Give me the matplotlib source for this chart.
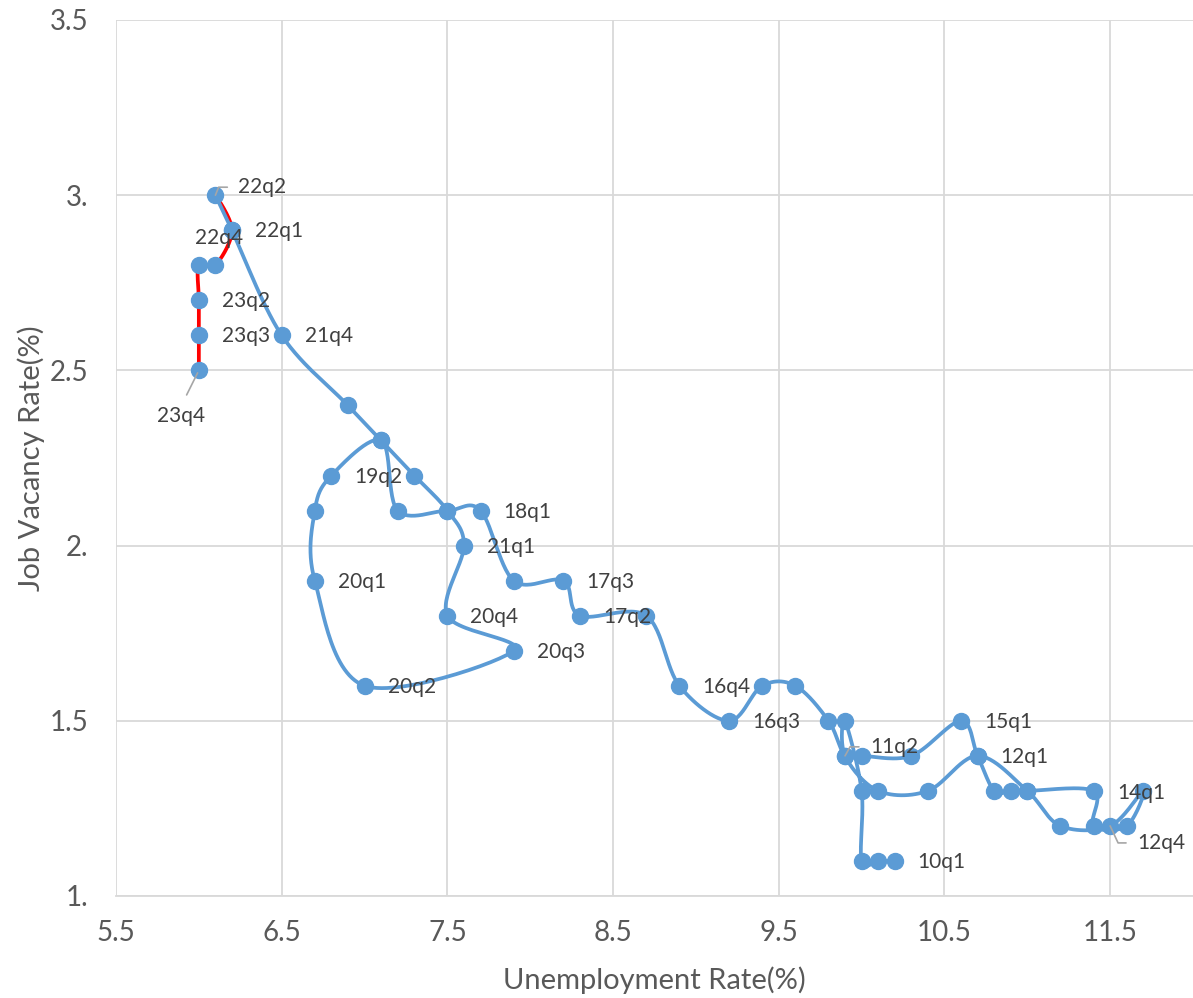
"""
Beveridge curve: job vacancy rate vs unemployment rate, quarterly 2010-2023,
drawn as an Excel-style smoothed scatter line with the latest stretch in red.
"""

import matplotlib

matplotlib.use("Agg")
import matplotlib.pyplot as plt
import numpy as np

plt.rcParams["font.family"] = ["Lato", "DejaVu Sans"]

# path of the curve in plotting order (unemployment %, vacancy %)
unemployment = [
    10.2, 10.1, 10.0, 10.0, 9.9, 9.9, 10.1, 10.4, 10.7, 11.0,
    11.2, 11.5, 11.7, 11.6, 11.4, 11.4, 11.0, 10.9, 10.8, 10.7,
    10.6, 10.3, 10.0, 9.9, 9.8, 9.6, 9.4, 9.2, 8.9, 8.7,
    8.3, 8.2, 7.9, 7.7, 7.5, 7.2, 7.1, 6.8, 6.7, 6.7,
    7.0, 7.9, 7.5, 7.6, 7.5, 7.3, 7.1, 6.9, 6.5, 6.2,
    6.1, 6.2, 6.1, 6.0, 6.0, 6.0, 6.0,
]
vacancy = [
    1.1, 1.1, 1.1, 1.3, 1.5, 1.4, 1.3, 1.3, 1.4, 1.3,
    1.2, 1.2, 1.3, 1.2, 1.2, 1.3, 1.3, 1.3, 1.3, 1.4,
    1.5, 1.4, 1.4, 1.4, 1.5, 1.6, 1.6, 1.5, 1.6, 1.8,
    1.8, 1.9, 1.9, 2.1, 2.1, 2.1, 2.3, 2.2, 2.1, 1.9,
    1.6, 1.7, 1.8, 2.0, 2.1, 2.2, 2.3, 2.4, 2.6, 2.9,
    3.0, 2.9, 2.8, 2.8, 2.7, 2.6, 2.5,
]
red_from = 50  # index of 22q2: segments after it are drawn red

# data labels: text and the point they belong to
label_text = ["22q2", "22q1", "22q4", "23q2", "23q3", "21q4", "23q4", "19q2",
              "18q1", "21q1", "20q1", "17q3", "20q4", "17q2", "20q3", "20q2",
              "16q4", "16q3", "15q1", "11q2", "12q1", "14q1", "12q4", "10q1"]
label_x = [6.1, 6.2, 6.1, 6.0, 6.0, 6.5, 6.0, 6.8, 7.7, 7.6, 6.7, 8.2,
           7.5, 8.3, 7.9, 7.0, 8.9, 9.2, 10.6, 9.9, 10.7, 11.7, 11.5, 10.2]
label_y = [3.0, 2.9, 2.8, 2.7, 2.6, 2.6, 2.5, 2.2, 2.1, 2.0, 1.9, 1.9,
           1.8, 1.8, 1.7, 1.6, 1.6, 1.5, 1.5, 1.4, 1.4, 1.3, 1.2, 1.1]

x_ticks = [5.5, 6.5, 7.5, 8.5, 9.5, 10.5, 11.5]
y_ticks = [1.0, 1.5, 2.0, 2.5, 3.0, 3.5]
y_tick_labels = ["1.", "1.5", "2.", "2.5", "3.", "3.5"]

BLUE = "#5B9BD5"
RED = "#FF0000"
GRID = "#D9D9D9"
TEXT = "#595959"
LABEL = "#404040"
LEADER = "#A6A6A6"

# special placements (label -> (dx, dy) pixels), the rest sit to the right
OFFSETS = {"22q2": (23, 8), "22q4": (-20, 27), "23q4": (-42, -46),
           "11q2": (25, 9), "14q1": (-26, -2), "12q4": (27, -17)}
LEADERS = {"22q2": 68, "11q2": 61, "12q4": -65}


def smooth(xs, ys, n=30):
    """Catmull-Rom style bezier smoothing, one chunk per segment."""
    p = np.column_stack([xs, ys]).astype(float)
    ext = np.vstack([p[0], p, p[-1]])
    t = np.linspace(0, 1, n)[:, None]
    out = []
    for i in range(len(p) - 1):
        p0, p1, p2, p3 = ext[i], ext[i + 1], ext[i + 2], ext[i + 3]
        c1 = p1 + (p2 - p0) / 6
        c2 = p2 - (p3 - p1) / 6
        seg = ((1 - t) ** 3 * p1 + 3 * (1 - t) ** 2 * t * c1
               + 3 * (1 - t) * t ** 2 * c2 + t ** 3 * p2)
        out.append(seg)
    return out


fig = plt.figure(figsize=(11.93, 9.98), dpi=100)
ax = fig.add_axes([116 / 1193, 102 / 998, 1077 / 1193, 876 / 998])

segs = smooth(unemployment, vacancy)
red = np.vstack(segs[red_from:])
blue = np.vstack(segs[:red_from])
ax.plot(red[:, 0], red[:, 1], color=RED, lw=2.7, zorder=2, solid_capstyle="round")
ax.plot(blue[:, 0], blue[:, 1], color=BLUE, lw=2.7, zorder=2.5, solid_capstyle="round")
ax.plot(unemployment, vacancy, "o", ms=11.5, color=BLUE, mec=BLUE, zorder=3)

for txt, lx, ly in zip(label_text, label_x, label_y):
    dx, dy = OFFSETS.get(txt, (23, -1))
    kw = {}
    if txt in LEADERS:
        kw["arrowprops"] = dict(
            arrowstyle="-", color=LEADER, lw=1.2, shrinkA=6, shrinkB=0,
            relpos=(0, 0.5),
            connectionstyle=f"angle,angleA=0,angleB={LEADERS[txt]},rad=0")
    elif txt == "23q4":
        kw["arrowprops"] = dict(arrowstyle="-", color=LEADER, lw=1.2,
                                shrinkA=7, shrinkB=2, relpos=(0.5, 1))
    ax.annotate(txt, xy=(lx, ly), xytext=(dx, dy), textcoords="offset pixels",
                ha="left", va="center", fontsize=15, color=LABEL, zorder=4, **kw)

ax.set_xlim(5.5, 12.0)
ax.set_ylim(1.0, 3.5)
ax.set_xticks(x_ticks)
ax.set_xticklabels([f"{v:g}" for v in x_ticks])
ax.set_yticks(y_ticks)
ax.set_yticklabels(y_tick_labels)
ax.tick_params(length=0, labelsize=20, labelcolor=TEXT)
ax.tick_params(axis="x", pad=17)
ax.tick_params(axis="y", pad=20)
ax.grid(True, color=GRID, lw=1.3)
ax.set_axisbelow(True)
for side in ("top", "right", "left"):
    ax.spines[side].set_visible(False)
ax.spines["bottom"].set_color(GRID)
ax.spines["bottom"].set_linewidth(1.3)

ax.set_xlabel("Unemployment Rate(%)", fontsize=21, color=TEXT, labelpad=15)
ax.set_ylabel("Job Vacancy Rate(%)", fontsize=21, color=TEXT)
ax.yaxis.set_label_coords(-0.066, 0.5)

fig.savefig("out.png", dpi=100)
